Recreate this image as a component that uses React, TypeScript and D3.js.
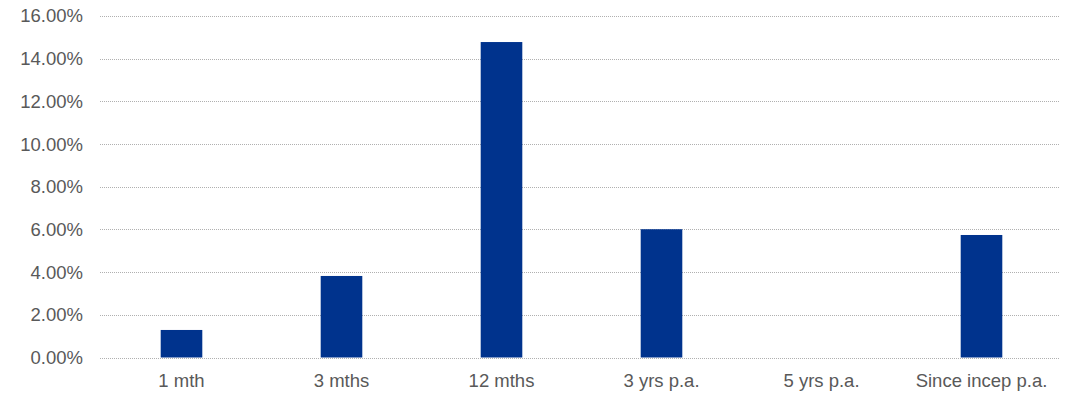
import React, { useEffect, useRef } from 'react';
import * as d3 from 'd3';

const categories = ['1 mth', '3 mths', '12 mths', '3 yrs p.a.', '5 yrs p.a.', 'Since incep p.a.'];
const returns: (number | null)[] = [1.29, 3.82, 14.78, 6.01, null, 5.74];
const yTicks = [0, 2, 4, 6, 8, 10, 12, 14, 16];

const App: React.FC = () => {
  const svgRef = useRef<SVGSVGElement>(null);

  useEffect(() => {
    if (!svgRef.current) return;
    const svg = d3.select(svgRef.current);
    svg.selectAll('*').remove();

    const width = 1069;
    const height = 394;
    const left = 100;
    const right = 1060;

    const xScale = d3.scaleBand<string>()
      .domain(categories)
      .range([left + 1.5, right + 1.5])
      .paddingInner(0.74)
      .paddingOuter(0.37);

    const yScale = d3.scaleLinear()
      .domain([0, 16])
      .range([357.5, 16]);

    svg.attr('width', width).attr('height', height);

    // gridlines
    svg.append('g')
      .selectAll('line')
      .data(yTicks)
      .join('line')
        .attr('x1', left)
        .attr('x2', right)
        .attr('y1', d => Math.round(yScale(d)) + 0.5)
        .attr('y2', d => Math.round(yScale(d)) + 0.5)
        .attr('stroke', '#b0b0b0')
        .attr('stroke-width', 1)
        .attr('stroke-dasharray', '1,1');

    // y labels
    svg.append('g')
      .attr('font-family', 'Liberation Sans, Arial, sans-serif')
      .attr('font-size', 18.5)
      .attr('fill', '#595959')
      .attr('text-anchor', 'end')
      .selectAll('text')
      .data(yTicks)
      .join('text')
        .attr('x', 83)
        .attr('y', d => yScale(d))
        .attr('dy', '0.35em')
        .text(d => d3.format('.2f')(d) + '%');

    // bars
    const data = categories.map((c, i) => ({ c, v: returns[i] }))
      .filter(d => d.v !== null) as { c: string; v: number }[];

    svg.append('g')
      .selectAll('rect')
      .data(data)
      .join('rect')
        .attr('x', d => xScale(d.c)!)
        .attr('width', xScale.bandwidth())
        .attr('y', d => yScale(d.v))
        .attr('height', d => yScale(0) - yScale(d.v))
        .attr('fill', '#00338d');

    // x labels
    svg.append('g')
      .attr('font-family', 'Liberation Sans, Arial, sans-serif')
      .attr('font-size', 18.5)
      .attr('fill', '#595959')
      .attr('text-anchor', 'middle')
      .selectAll('text')
      .data(categories)
      .join('text')
        .attr('x', d => xScale(d)! + xScale.bandwidth() / 2)
        .attr('y', 387)
        .text(d => d);
  }, []);

  return (
    <div style={{ position: 'absolute', left: 0, top: 0, width: 1069, height: 394, background: '#fff' }}>
      <svg ref={svgRef} style={{ display: 'block' }}></svg>
    </div>
  );
};

export default App;
